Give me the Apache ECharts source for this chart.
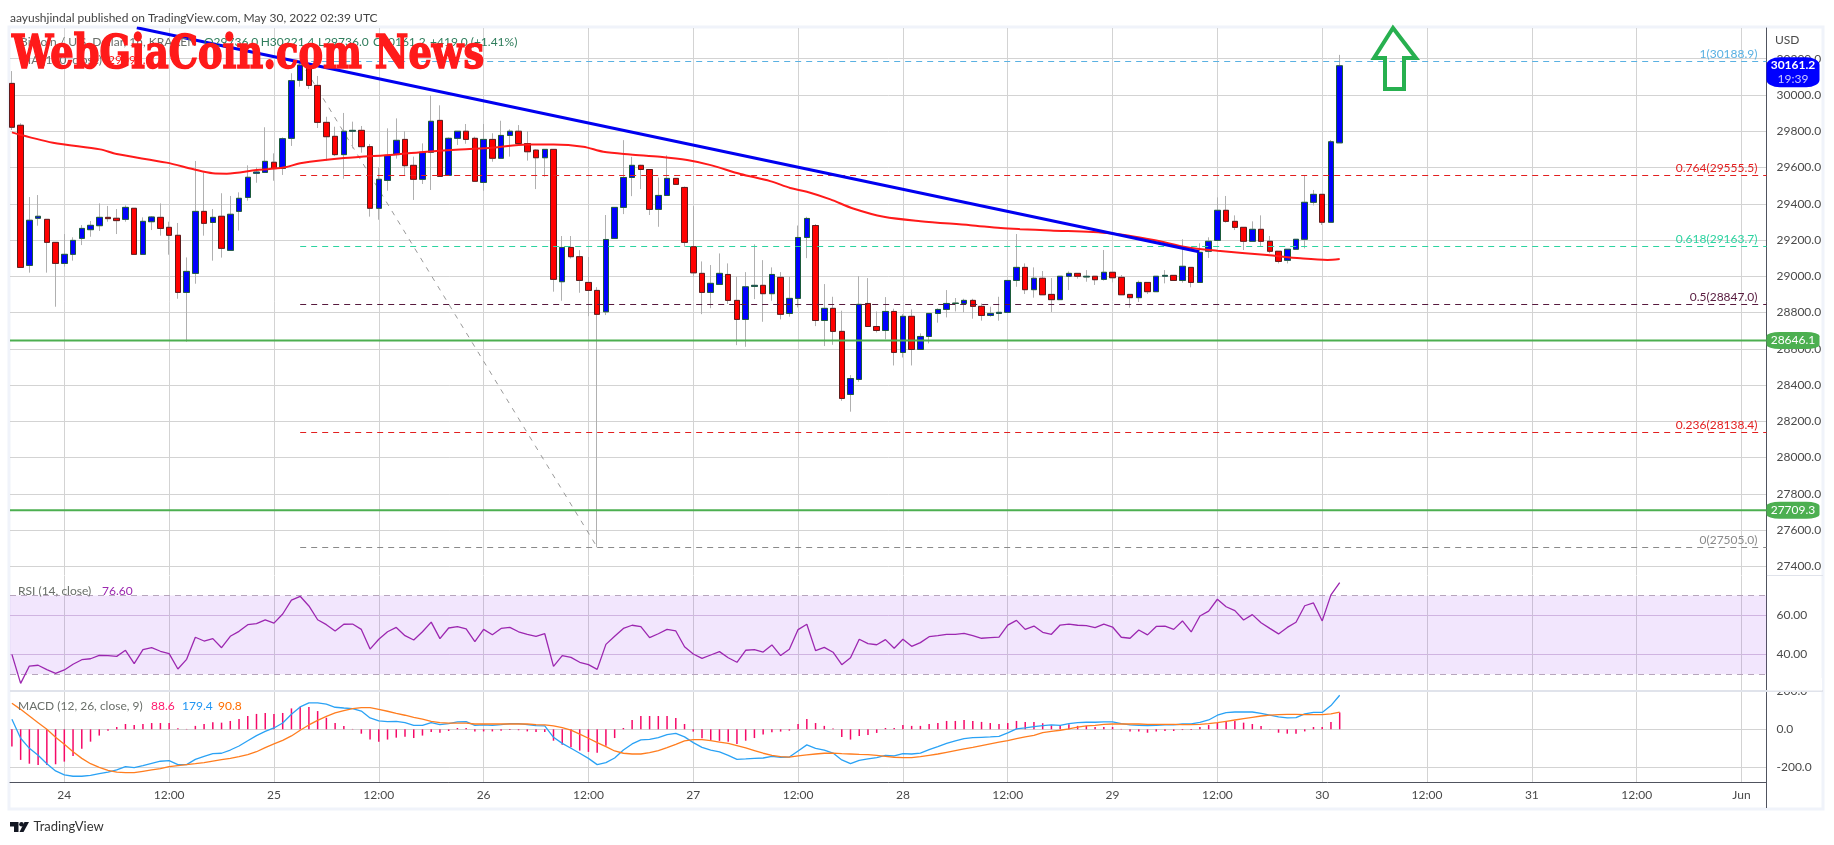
<!DOCTYPE html>
<html><head><meta charset="utf-8">
<style>html,body{margin:0;padding:0;background:#fff}#c{width:1834px;height:845px}</style>
<script src="https://cdn.jsdelivr.net/npm/echarts@6/dist/echarts.min.js"></script>
</head><body><div id="c"></div>
<script>
const firstHour = -6; // May 23 18:00, hours counted from May 24 00:00 UTC
const opens = [30064,29833,29060,29320,29314,29187,29071,29121,29209,29257,
29279,29325,29320,29314,29375,29121,29301,29325,29270,29226,
28911,29016,29358,29297,29331,29143,29358,29435,29568,29573,
29629,29595,29761,30081,30165,30053,29849,29772,29671,29800,
29805,29715,29375,29529,29671,29755,29612,29535,29684,29860,
29557,29761,29800,29761,29518,29755,29651,29777,29800,29732,
29696,29654,29700,28970,29159,29108,28966,28922,28804,29209,
29380,29545,29612,29589,29369,29446,29540,29490,29163,29016,
28911,28955,29010,28867,28762,28944,28950,28904,28994,28795,
28878,29214,29280,28756,28823,28696,28348,28431,28850,28723,
28701,28806,28580,28779,28596,28668,28795,28817,28850,28850,
28867,28834,28784,28795,28801,28977,29049,28926,28989,28900,
28871,29000,29016,28996,29000,28983,29022,28994,28900,28882,
28966,28915,29000,29005,28977,29049,28966,29138,29198,29364,
29303,29270,29193,29259,29193,29138,29088,29149,29204,29408,
29452,29298,29736];
const closes = [29822,29049,29309,29331,29187,29071,29121,29198,29264,29281,
29325,29318,29307,29380,29121,29303,29327,29264,29226,28911,
29027,29358,29292,29325,29154,29342,29430,29546,29575,29634,
29594,29759,30079,30165,30053,29849,29770,29671,29800,29805,
29715,29375,29535,29667,29750,29610,29535,29684,29855,29551,
29761,29800,29755,29524,29755,29651,29777,29800,29732,29687,
29654,29700,28983,29159,29108,28977,28922,28790,29203,29380,
29545,29612,29589,29369,29446,29540,29507,29187,29019,28911,
28961,29016,28867,28762,28942,28950,28904,29010,28790,28878,
29214,29319,28756,28823,28696,28326,28436,28845,28723,28701,
28806,28580,28779,28596,28668,28795,28817,28850,28852,28867,
28834,28784,28795,28801,28977,29049,28926,28989,28898,28871,
29000,29016,29000,29000,28981,29022,28992,28898,28882,28966,
28915,29000,29005,28977,29055,28966,29132,29193,29364,29303,
29270,29193,29259,29193,29138,29082,29149,29204,29408,29452,
29298,29742,30161.2];
const highs = [30132,29844,29437,29448,29314,29187,29233,29215,29283,29305,
29402,29388,29371,29391,29375,29325,29332,29402,29301,29294,
29104,29636,29572,29371,29458,29443,29463,29612,29601,29822,
29678,29766,30120,30189,30175,30105,29880,29825,29901,29853,
29829,29730,29601,29816,29871,29800,29660,29733,29998,29943,
29766,29800,29840,29770,29840,29789,29858,29811,29834,29800,
29700,29700,29700,29222,29222,29144,29106,28940,29338,29380,
29751,29659,29615,29589,29545,29667,29540,29495,29387,29082,
29062,29126,29071,28997,29023,29176,29089,29049,29023,28997,
29280,29328,29288,28957,28887,28810,28455,29001,28990,28806,
28885,28821,28791,28817,28685,28795,28823,28924,28880,28876,
28876,28850,28832,28887,28977,29233,29071,29049,29029,28990,
29000,29027,29016,29034,29000,29145,29022,29007,28900,28976,
28966,29000,29034,29005,29204,29049,29182,29215,29435,29443,
29336,29270,29303,29336,29222,29138,29149,29204,29557,29476,
29452,29752,30221.4];
const lows = [29807,29049,29020,29279,29020,28832,29053,29086,29172,29218,
29250,29301,29233,29301,29121,29121,29255,29224,29119,28876,
28639,28959,29224,29086,29103,29143,29252,29417,29516,29573,
29527,29559,29719,30046,30033,29818,29638,29663,29538,29706,
29682,29329,29312,29472,29649,29553,29421,29509,29476,29551,
29557,29724,29731,29524,29472,29632,29651,29660,29732,29638,
29481,29549,28915,28865,29098,28909,28780,27505,28786,29209,
29343,29442,29481,29338,29273,29446,29507,29163,28997,28791,
28824,28955,28847,28620,28611,28874,28749,28865,28762,28777,
28828,29100,28725,28615,28622,28313,28253,28418,28723,28690,
28652,28508,28552,28508,28596,28630,28744,28773,28806,28802,
28766,28755,28777,28755,28801,28942,28902,28882,28898,28803,
28871,28924,28987,28970,28952,28976,28966,28898,28827,28858,
28902,28915,28961,28977,28965,28939,28966,29101,29198,29296,
29255,29145,29193,29167,29127,29071,29071,29149,29154,29391,
29283,29298,29736];
const maHours = [-6,-1.3,4.1,6,11.7,14.8,17,18.6,22,23.5,25.3,27,32,37.7,41.5,45.3,49,53,56,59.4,61.7,64.8,68.2,71.3,74,77.4,80.8,83.1,85,87.7,90.3,93.8,98,103.7,107.2,109.4,112.9,119.7,124.7,128.5,132,137.7,141.5,144.6,146];
const maValues = [29794,29737,29700,29674,29627,29590,29568,29566,29586,29592,29601,29623,29652,29671,29687,29700,29709,29727,29727,29715,29687,29672,29659,29641,29613,29564,29525,29487,29466,29424,29374,29328,29304,29282,29266,29260,29253,29237,29200,29160,29141,29117,29099,29090,29095];
const trendHours = [8.3,129.9];
const trendValues = [30371,29135];
const fibTrendHours = [27,61];
const fibTrendValues = [30188.9,27505];
const fibStartHour = 27;
const fibValues = [30188.9,29555.5,29163.7,28847.0,28138.4,27505.0];
const fibTexts = ['1(30188.9)','0.764(29555.5)','0.618(29163.7)','0.5(28847.0)','0.236(28138.4)','0(27505.0)'];
const fibColors = ['#5ab1e2','#e21f1f','#2cd3a0','#571a3e','#e21f1f','#8a8a8a'];
const supportValues = [28646.1,27709.3];
const priceTicks = [27400,27600,27800,28000,28200,28400,28600,28800,29000,29200,29400,29600,29800,30000,30200];
const rsiTicks = [40,60];
const macdTicks = [-200,0,200];
const timeTickHours = [0,12,24,36,48,60,72,84,96,108,120,132,144,156,168,180,192];
const timeTickLabels = ['24','12:00','25','12:00','26','12:00','27','12:00','28','12:00','29','12:00','30','12:00','31','12:00','Jun'];
const rsiValues = [40.1,25.4,34.2,34.6,32.4,30.5,32.2,35.1,37.4,37.9,39.6,39.5,39.1,42.2,35.4,42.5,43.5,41.7,40.5,32.7,
37.6,48.8,46.9,48.1,43.5,49.3,51.8,55.2,55.7,57.6,56.0,60.6,67.7,69.6,64.7,57.7,55.2,52.0,55.4,55.5,
52.8,42.8,47.8,51.6,53.8,49.6,47.4,51.6,56.5,48.1,53.5,54.2,53.0,46.6,52.8,50.1,53.3,53.8,51.6,50.3,
49.3,50.6,34.0,39.5,38.6,36.1,34.9,32.5,45.2,49.3,53.3,54.9,54.2,48.6,50.6,52.8,52.0,44.0,40.3,38.1,
39.8,41.5,38.4,36.1,42.2,42.5,41.3,44.9,39.5,42.7,52.7,55.4,42.0,43.7,41.2,34.9,38.4,47.8,45.6,45.0,
47.6,43.2,47.8,44.2,46.1,49.1,49.6,50.3,50.3,50.8,49.6,48.3,48.6,48.9,55.0,57.4,52.8,54.5,51.3,50.3,
55.0,55.5,54.9,54.7,53.7,55.5,54.0,48.8,48.3,52.5,50.0,54.3,54.5,52.8,57.1,51.5,59.6,62.1,68.1,64.3,
62.3,57.6,60.3,56.2,53.3,50.5,53.8,56.4,64.8,66.2,57.1,70.3,76.6];
const histValues = [-91,-161,-181,-188,-188,-184,-170,-140,-102,-65,-33,-7,12,28,23,28,33,33,33,5,
2,18,28,37,35,44,54,70,81,86,81,86,110,119,118,96,61,33,18,2,
-23,-54,-65,-54,-44,-39,-46,-33,-14,-18,-9,7,7,-12,-11,-11,-7,-4,-5,-11,
-14,-14,-60,-81,-95,-112,-119,-123,-86,-46,7,49,70,70,70,70,60,28,-12,-47,
-56,-61,-65,-77,-60,-46,-28,-16,-12,-7,28,54,33,18,4,-40,-54,-35,-30,-19,
7,7,23,18,18,28,33,44,44,49,44,39,33,28,33,44,39,39,32,21,
21,26,18,18,12,12,12,2,-12,-12,-18,-12,-9,-9,-4,-4,12,23,35,44,
44,35,28,18,2,-18,-23,-23,-11,12,12,39,88.6];
const macdValues = [53,-47,-100,-137,-181,-219,-240,-247,-247,-242,-233,-225,-214,-196,-202,-191,-179,-168,-165,-186,
-186,-158,-142,-128,-126,-109,-88,-60,-33,-11,7,33,79,118,139,139,132,116,112,109,
96,60,44,40,42,35,21,21,35,25,30,39,40,21,23,21,25,30,30,25,
19,18,-42,-74,-100,-126,-153,-186,-175,-151,-109,-77,-56,-53,-44,-28,-21,-40,-70,-95,
-109,-119,-137,-158,-156,-153,-151,-142,-147,-146,-114,-82,-100,-109,-125,-161,-181,-163,-156,-149,
-137,-140,-128,-130,-125,-107,-91,-74,-61,-49,-44,-42,-40,-37,-19,2,7,14,19,23,
21,30,35,37,37,39,39,30,23,21,19,21,23,23,28,28,37,49,74,88,
91,91,91,84,75,65,60,61,81,89,89,125,179.4];
const signalValues = [137,105,70,35,0,-42,-79,-118,-153,-181,-200,-216,-225,-228,-228,-221,-214,-207,-196,-191,
-186,-181,-175,-167,-160,-153,-144,-133,-118,-96,-77,-58,-35,-5,23,47,68,86,98,109,
114,114,105,95,84,74,63,53,42,35,33,32,32,28,28,28,28,28,28,28,
25,23,18,9,-4,-25,-47,-70,-91,-114,-126,-130,-130,-123,-112,-96,-79,-61,-54,-54,
-60,-67,-74,-86,-98,-112,-126,-137,-144,-146,-140,-135,-130,-126,-125,-128,-130,-132,-133,-137,
-142,-147,-149,-149,-144,-137,-130,-121,-112,-103,-95,-86,-77,-68,-60,-49,-40,-32,-18,-11,
-5,2,11,18,21,26,28,28,28,28,26,26,26,26,25,25,26,30,35,42,
49,56,63,70,75,77,79,79,77,77,77,81,90.8];

const FONT = 'Lato';
const hourOf = i => firstHour + i;
const xMin = -6.218, xMax = 194.86;
const bodyTop = i => Math.max(opens[i], closes[i]);
const bodyBottom = i => Math.min(opens[i], closes[i]);
const candleWicks = opens.map((o,i)=>[hourOf(i),o,closes[i],lows[i],highs[i]]);
const candleBodies = opens.map((o,i)=>[hourOf(i),o,closes[i],bodyBottom(i),bodyTop(i)]);
const pairs = (xs,ys)=>xs.map((x,i)=>[x,ys[i]]);
const seq = ys=>ys.map((y,i)=>[hourOf(i),y]);

const GRID='#d3d3d3', AXIS='#50535e', LABEL='#4a4a4a';
function xAxis(idx,showLabel){
  return {type:'value',gridIndex:idx,min:xMin,max:xMax,
    axisLine:{show:showLabel,onZero:false,lineStyle:{color:AXIS,width:1}},
    axisTick:{show:false,customValues:timeTickHours},
    splitLine:{show:true,lineStyle:{color:GRID,width:1}},
    axisLabel:{show:showLabel,customValues:timeTickHours,margin:7,color:LABEL,fontFamily:FONT,fontSize:12,
      formatter:v=>timeTickLabels[timeTickHours.indexOf(v)]}};
}
function yAxis(idx,min,max,ticks,fmt,gridColor){
  return {type:'value',gridIndex:idx,position:'right',min,max,scale:true,
    axisLine:{show:true,onZero:false,lineStyle:{color:AXIS,width:1}},
    axisTick:{show:false,customValues:ticks},
    splitLine:{show:true,lineStyle:{color:gridColor||GRID,width:1}},
    axisLabel:{customValues:ticks,margin:10,color:LABEL,fontFamily:FONT,fontSize:12,formatter:fmt}};
}
const tagLabel = (text,bold)=>({show:true,position:'inside',formatter:text,color:'#fff',fontFamily:FONT,fontSize:12,fontWeight:bold?'bold':'normal',lineHeight:14});

const series = [
  {name:'Wicks',type:'candlestick',xAxisIndex:0,yAxisIndex:0,data:candleWicks,barWidth:6,silent:true,z:3,
    itemStyle:{color:'#b0b0b0',color0:'#b0b0b0',borderColor:'#b0b0b0',borderColor0:'#b0b0b0',borderWidth:1}},
  {name:'Fib trend',type:'line',xAxisIndex:0,yAxisIndex:0,data:pairs(fibTrendHours,fibTrendValues),showSymbol:false,silent:true,z:2,
    lineStyle:{color:'#9a9a9a',width:1,type:[5,6]},
    markLine:{symbol:'none',silent:true,animation:false,
      data:fibValues.map((v,i)=>[
        {coord:[fibStartHour,v],lineStyle:{color:fibColors[i],width:1,type:[6,5]},
         label:{show:true,position:'insideEndTop',distance:[9,1],formatter:fibTexts[i],color:fibColors[i],fontFamily:FONT,fontSize:12}},
        {coord:[xMax,v]}])}},
  {name:'Bitcoin',type:'candlestick',xAxisIndex:0,yAxisIndex:0,data:candleBodies,barWidth:6,silent:true,z:4,
    itemStyle:{color:'#0000ff',color0:'#ff0000',borderColor:'#1c5c3a',borderColor0:'#5e1c1c',borderWidth:1},
    markPoint:{silent:true,animation:false,z:20,data:[{coord:[xMax,closes[closes.length-1]],symbol:'roundRect',symbolSize:[53,30],symbolOffset:[26.5,6.5],
      itemStyle:{color:'#0000ff'},
      label:{show:true,position:'inside',formatter:'{a|30161.2}\n{b|19:39}',rich:{a:{color:'#fff',fontFamily:FONT,fontSize:12,fontWeight:'bold',lineHeight:14},b:{color:'#c8c8ff',fontFamily:FONT,fontSize:12,lineHeight:14}}}}]}},
  {name:'MA (100, close)',type:'line',xAxisIndex:0,yAxisIndex:0,data:pairs(maHours,maValues),showSymbol:false,smooth:0.3,silent:true,z:5,
    lineStyle:{color:'#ff1a1a',width:2}},
  {name:'Trend line',type:'line',xAxisIndex:0,yAxisIndex:0,data:pairs(trendHours,trendValues),showSymbol:false,silent:true,z:6,
    lineStyle:{color:'#0000f0',width:3}}
];
supportValues.forEach(v=>series.push({name:'Support '+v,type:'line',xAxisIndex:0,yAxisIndex:0,data:[[xMin,v],[xMax,v]],showSymbol:false,silent:true,z:7,
  lineStyle:{color:'#4caf50',width:2},
  markPoint:{silent:true,animation:false,z:20,data:[{coord:[xMax,v],symbol:'roundRect',symbolSize:[53,17],symbolOffset:[26.5,0],
    itemStyle:{color:'#4caf50'},label:tagLabel(v.toFixed(1),false)}]}}));
series.push(
  {name:'RSI',type:'line',xAxisIndex:1,yAxisIndex:1,data:seq(rsiValues),showSymbol:false,silent:true,z:5,
    lineStyle:{color:'#9c27b0',width:1.3},
    markArea:{silent:true,animation:false,itemStyle:{color:'rgba(150,50,240,0.12)'},data:[[{coord:[xMin,70]},{coord:[xMax,30]}]]},
    markLine:{symbol:'none',silent:true,animation:false,lineStyle:{color:'#b7a5bd',type:[6,5],width:1},label:{show:false},
      data:[{yAxis:70},{yAxis:30}]}},
  {name:'Histogram',type:'bar',xAxisIndex:2,yAxisIndex:2,data:seq(histValues),barWidth:1.5,silent:true,z:3,itemStyle:{color:'#f50a68'}},
  {name:'MACD',type:'line',xAxisIndex:2,yAxisIndex:2,data:seq(macdValues),showSymbol:false,silent:true,z:4,lineStyle:{color:'#2aa2f5',width:1.3}},
  {name:'Signal',type:'line',xAxisIndex:2,yAxisIndex:2,data:seq(signalValues),showSymbol:false,silent:true,z:5,lineStyle:{color:'#ff7d1f',width:1.3}}
);

function txt(x,y,text,color,size,extra){
  return Object.assign({type:'text',x,y,z:30,silent:true,style:{text,fill:color,font:(size||12)+'px '+FONT,textVerticalAlign:'middle'}},extra||{});
}
function hline(x1,x2,y,color,w){return {type:'line',z:1,silent:true,shape:{x1,y1:y,x2,y2:y},style:{stroke:color,lineWidth:w||1}};}
const LEG='#6a6f6a', VAL='#2f7d5c';
const graphicEls = [
  {type:'rect',z:0,silent:true,shape:{x:9,y:27,width:1814,height:782},style:{fill:'#fff',stroke:'#f0f3fa',lineWidth:3}},
  hline(1767,1823,575.5,'#e0e3eb',1), hline(10,1823,691,'#e0e3eb',2),
  {type:'rect',z:15,silent:true,shape:{x:1768,y:678,width:54,height:12.5},style:{fill:'#fff'}},
  {type:'line',z:15,silent:true,shape:{x1:1766.5,y1:782,x2:1766.5,y2:808},style:{stroke:AXIS,lineWidth:1}},
  txt(10,18,'aayushjindal published on TradingView.com, May 30, 2022 02:39 UTC','#444',12),
  txt(20,42,'Bitcoin / U.S. Dollar, 1h, KRAKEN',LEG,12),
  txt(204,42,'O29736.0',VAL,12),txt(260.7,42,'H30221.4',VAL,12),txt(318,42,'L29736.0',VAL,12),txt(373,42,'C30161.2',VAL,12),txt(430,42,'+419.0',VAL,12),txt(470.7,42,'(+1.41%)',VAL,12),
  txt(20,60,'MA (100, close)',LEG,12),txt(108,60,'29095.3','#ff1a1a',12),
  txt(1775,40,'USD',LABEL,12),
  txt(18,591,'RSI (14, close)',LEG,12),txt(102,591,'76.60','#9c27b0',12),
  txt(18,706,'MACD (12, 26, close, 9)',LEG,12),txt(151,706,'88.6','#ff1a6e',12),txt(182,706,'179.4','#2196f3',12),txt(218,706,'90.8','#ff6d00',12),
  txt(33.5,827,'TradingView','#333',13),
  {type:'polygon',z:30,silent:true,shape:{points:[[10,822],[18.5,822],[18.5,832],[14,832],[14,826.5],[10,826.5]]},style:{fill:'#131722'}},
  {type:'circle',z:30,silent:true,shape:{cx:21.5,cy:824.3,r:2.3},style:{fill:'#131722'}},
  {type:'polygon',z:30,silent:true,shape:{points:[[24.5,822],[29,822],[23.5,832],[19.5,832]]},style:{fill:'#131722'}},
  {type:'polygon',z:31,silent:true,shape:{points:[[1393,28],[1416,58],[1404,58],[1404,89],[1385,89],[1385,58],[1374,58]]},style:{fill:'none',stroke:'#27b04f',lineWidth:4,lineJoin:'miter'}},
  {type:'text',x:10,y:56.5,z:40,silent:true,scaleX:0.80,originX:10,originY:56.5,style:{text:'WebGiaCoin.com News',fill:'#ff1a1a',stroke:'#ff1a1a',lineWidth:1.6,font:'bold 46px "DejaVu Serif"',textVerticalAlign:'middle'}}
];

const chart = echarts.init(document.getElementById('c'),null,{renderer:'canvas'});
chart.setOption({
  animation:false,backgroundColor:'#fff',
  grid:[{left:10,top:28,width:1756.5,height:547.5},{left:10,top:576,width:1756.5,height:114.5},{left:10,top:691.3,width:1756.5,height:91}],
  xAxis:[xAxis(0,false),xAxis(1,false),xAxis(2,true)],
  yAxis:[yAxis(0,27349.3,30369.6,priceTicks,v=>v.toFixed(1)),
         yAxis(1,21.78,79.9,rsiTicks,v=>v.toFixed(2),'#d9c7e0'),
         yAxis(2,-278.9,200,macdTicks,v=>v.toFixed(1))],
  graphic:{elements:graphicEls},
  series
});
</script></body></html>
